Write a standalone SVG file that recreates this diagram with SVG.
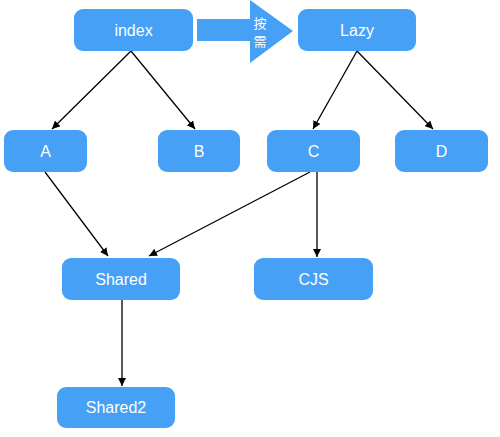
<svg xmlns="http://www.w3.org/2000/svg" width="500" height="437" viewBox="0 0 500 437">
<style>
.n rect{fill:#46a0f5}
.n text{fill:#fff;font-family:"Liberation Sans",Arial,sans-serif;font-size:16px;text-anchor:middle;dominant-baseline:central}
.c line{stroke:#000;stroke-width:1.3;marker-end:url(#ah)}
.cjk{fill:#fff;font-family:"Noto Sans CJK SC",sans-serif;font-size:13px;text-anchor:middle;dominant-baseline:central}
</style>
<defs>
<marker id="ah" viewBox="0 0 10 10" refX="10" refY="5" markerWidth="8" markerHeight="8" markerUnits="userSpaceOnUse" orient="auto">
<path d="M0,0 L10,5 L0,10 z" fill="#000"/>
</marker>
</defs>
<rect width="500" height="437" fill="#fff"/>
<g id="ondemand">
<polygon points="197,19 250,19 250,0 293,31 250,63 250,41 197,41" fill="#46a0f5"/>
<text class="cjk" x="260" y="22">按</text>
<text class="cjk" x="260" y="40">需</text>
</g>
<g class="c" id="connectors">
<line x1="131" y1="51" x2="52" y2="129"/>
<line x1="131" y1="51" x2="195" y2="129"/>
<line x1="357" y1="51" x2="313" y2="129"/>
<line x1="357" y1="51" x2="433" y2="129"/>
<line x1="45" y1="172" x2="108" y2="256"/>
<line x1="310" y1="172" x2="149" y2="256"/>
<line x1="317" y1="172" x2="317" y2="257"/>
<line x1="122" y1="300" x2="122" y2="386"/>
</g>
<g class="n" id="index"><rect x="74" y="9" width="119" height="42" rx="9"/><text x="133.5" y="30">index</text></g>
<g class="n" id="lazy"><rect x="298" y="9" width="118" height="42" rx="9"/><text x="357" y="30">Lazy</text></g>
<g class="n" id="A"><rect x="4" y="130" width="83" height="42" rx="9"/><text x="45.5" y="151">A</text></g>
<g class="n" id="B"><rect x="158" y="130" width="82" height="42" rx="9"/><text x="199" y="151">B</text></g>
<g class="n" id="C"><rect x="267" y="130" width="93" height="42" rx="9"/><text x="313.5" y="151">C</text></g>
<g class="n" id="D"><rect x="395" y="130" width="93" height="42" rx="9"/><text x="441.5" y="151">D</text></g>
<g class="n" id="Shared"><rect x="62" y="258" width="118" height="42" rx="9"/><text x="121" y="279">Shared</text></g>
<g class="n" id="CJS"><rect x="254" y="258" width="119" height="42" rx="9"/><text x="313.5" y="279">CJS</text></g>
<g class="n" id="Shared2"><rect x="57" y="387" width="118" height="41" rx="9"/><text x="116" y="407.5">Shared2</text></g>
</svg>
